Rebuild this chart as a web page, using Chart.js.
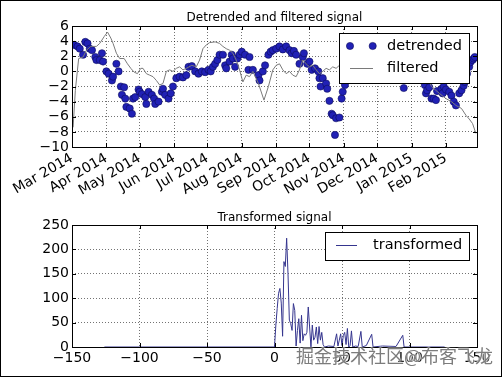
<!DOCTYPE html>
<html><head><meta charset="utf-8">
<script src="https://cdn.jsdelivr.net/npm/chart.js@4"></script>
<style>
html,body{margin:0;padding:0;background:#fff;}
#fig{position:relative;width:502px;height:377px;overflow:hidden;background:#fff;}
#c1{position:absolute;left:0;top:0;}
#c2{position:absolute;left:0;top:200px;}
#frame{position:absolute;left:0;top:0;width:502px;height:377px;box-sizing:border-box;border:1px solid #000;pointer-events:none;}
#wm{position:absolute;left:296px;top:343px;font-family:"Noto Sans CJK SC";font-size:18px;line-height:24px;color:#7c7c7c;white-space:nowrap;text-shadow:0 0 2px #fff,0 0 2px #fff;}
</style></head>
<body>
<div id="fig">
<canvas id="c1" width="502" height="200"></canvas>
<canvas id="c2" width="502" height="177"></canvas>
<div id="wm">掘金技术社区@布客飞龙</div>
<div id="frame"></div>
</div>
<script>
// ---- data (x in days since 2014-03-01) ----
const monthTickDays = [0,31,61,92,122,153,184,214,245,275,306,337];
const monthTickLabels = ['Mar 2014','Apr 2014','May 2014','Jun 2014','Jul 2014','Aug 2014','Sep 2014','Oct 2014','Nov 2014','Dec 2014','Jan 2015','Feb 2015'];
const topYTicks = [-10,-8,-6,-4,-2,0,2,4,6];

const detrendedDays = [2,5,7,10,12,14,16,18,21,22,25,27,28,31,33,36,37,40,42,44,45,47,48,49,52,54,55,57,60,61,63,66,67,69,72,74,75,78,81,82,84,87,89,91,94,97,100,103,105,108,111,114,117,120,123,125,127,129,131,133,136,138,139,142,144,145,147,149,151,153,156,159,160,163,168,169,172,174,177,179,181,184,187,190,193,196,198,200,202,205,208,209,212,214,216,219,222,223,224,226,229,230,232,234,235,237,238,241,243,244,246,250,255,259,264,268,273,277,282,286,291,295,299,303,306,310,313,316,318,319,320,322,324,326,328,329,333,334,335,337,340,342,344,346,349,351,353,354,356,358,359,361,362,363];
const detrendedValues = [3.5,3.3,3.0,2.2,3.9,3.7,3.0,2.8,1.9,1.5,1.5,2.4,1.3,0,-0.3,-1.2,-0.7,1.0,0,-2.0,-3.1,-2.1,-3.6,-4.7,-4.9,-5.6,-3.6,-3.4,-2.4,-2.7,-3.0,-3.4,-4.3,-2.7,-3.1,-3.6,-4.3,-4.0,-2.7,-2.3,-3.1,-3.6,-2.9,-2.0,-0.9,-0.7,-0.8,-0.5,0.6,0.7,0,-0.3,0,-0.1,0.2,0,0.6,1.0,1.5,2.2,2.2,0.8,0.4,1.3,2.2,1.7,0.6,1.7,2.2,2.6,2.2,0.2,1.9,0.2,-0.5,-1.2,0,0.8,2.2,2.6,2.8,3.0,3.3,2.9,3.3,2.8,2.4,2.7,2.2,1.0,1.9,2.4,1.0,1.3,0.2,0.4,0,-0.9,-2.0,-0.9,-1.6,-2.3,-3.9,-5.6,-5.8,-8.4,-6.2,-6.1,-3.6,-2.7,-1.8,-0.8,0.3,1.0,0.5,1.2,0.2,0.8,1.5,0.4,-0.5,0.6,-2.2,0.3,-0.4,0.9,-0.6,-1.0,-1.8,-2.9,-2.5,-2.1,-3.6,-3.6,-3.8,-2.6,-2.3,-2.9,-2.0,-2.4,-2.7,-3.2,-4.0,-4.5,-2.9,-2.5,-1.9,-1.4,-0.3,0.6,1.2,1.5,1.7,1.9];

const filteredDays = [1,3,6,10,13,17,22,25,29,32,35,37,40,43,47,50,53,56,59,62,64,67,70,73,76,79,82,85,88,91,94,97,100,103,108,112,115,118,121,124,129,133,136,139,142,145,148,151,154,157,160,163,168,173,177,181,184,187,190,193,196,199,202,205,208,211,214,217,220,223,226,229,232,235,238,241,250,259,268,277,286,295,304,313,320,324,331,337,342,346,351,355,358,361,364];
const filteredValues = [-7.4,-2.5,1.7,1.9,2.8,3.3,3.3,3.7,4.6,5.2,4.4,3.7,2.4,1.7,1.7,1.0,0.4,-0.1,-0.3,0.4,0.4,-0.3,-0.5,-0.7,-1.2,-1.8,-1.6,0,0.2,0,0.4,0.6,0.2,0.4,0.8,0.6,1.5,3.0,3.5,3.8,3.9,3.7,3.3,3.0,2.8,2.4,1.5,0.2,-1.4,-0.5,-0.7,0,-1.6,-3.8,-2.0,0.2,0.8,1.0,0.2,-0.3,0,-0.5,-0.7,0.2,1.5,1.0,0.6,0.8,0.2,-0.3,0,0.4,0.2,0.6,0.4,0.8,0.5,0.9,0.3,1.2,0.6,0.2,0.8,0.1,-0.8,-2.0,-2.9,-3.6,-4.0,-4.5,-4.9,-5.8,-6.3,-6.9,-8.2];

const transformedIndex = [-126,0,1,2,3,4,5,6,7,8,9,10,11,12,13,14,15,16,17,18,19,20,21,22,23,24,25,26,27,28,29,30,31,32,33,34,35,36,37,40,44,46,47,48,49,50,51,52,53,54,55,56,57,58,60,62,64,65,68,72,73,80,90,95,96,126];
const transformedValues = [0,0,45,79,110,120,90,22,175,165,223,150,55,48,34,89,75,2,34,58,8,65,13,27,24,30,82,41,0,45,14,20,41,7,42,14,30,5,0,2,1,27,2,14,27,3,24,30,5,38,0,3,33,0,2,1,32,0,3,26,0,2,1,24,0,0];

const bottomXTicks = [-150,-100,-50,0,50,100,150];
const bottomYTicks = [0,50,100,150,200,250];

// ---- styling helpers ----
const FONT = 'DejaVu Sans';
const fmt = v => (v < 0 ? '\u2212' + Math.abs(v) : String(v));
const gridCfg = {color:'rgba(0,0,0,0.55)', lineWidth:1, drawTicks:false};
const borderCfg = {display:false, dash:[1,2]};

function framePlugin(title, titleY, legend) {
  return {
    id:'frame',
    afterDatasetsDraw(chart) {
      const {ctx, chartArea:a, scales} = chart;
      ctx.save();
      ctx.strokeStyle = '#000'; ctx.lineWidth = 1; ctx.setLineDash([]);
      ctx.beginPath();
      scales.x.ticks.forEach(t => {
        const x = Math.round(scales.x.getPixelForValue(t.value)) + 0.5;
        ctx.moveTo(x, a.bottom); ctx.lineTo(x, a.bottom - 4);
        ctx.moveTo(x, a.top); ctx.lineTo(x, a.top + 4);
      });
      scales.y.ticks.forEach(t => {
        const y = Math.round(scales.y.getPixelForValue(t.value)) + 0.5;
        ctx.moveTo(a.left, y); ctx.lineTo(a.left + 4, y);
        ctx.moveTo(a.right, y); ctx.lineTo(a.right - 4, y);
      });
      ctx.stroke();
      ctx.strokeRect(Math.round(a.left)+0.5, Math.round(a.top)+0.5, Math.round(a.right-a.left), Math.round(a.bottom-a.top));
      // title
      ctx.fillStyle = '#000';
      ctx.font = '12px "' + FONT + '"';
      ctx.textAlign = 'center'; ctx.textBaseline = 'alphabetic';
      ctx.fillText(title, (a.left + a.right) / 2, titleY);
      legend(ctx);
      ctx.restore();
    }
  };
}

const dotFill = '#2121b5', dotEdge = '#0c0c5c';
const filteredColor = '#7a7a7a';
const transColor = '#35358e';

// ---- top chart ----
new Chart(document.getElementById('c1'), {
  type:'line',
  data:{datasets:[
    {label:'filtered', data: filteredDays.map((d,i)=>({x:d,y:filteredValues[i]})), borderColor:filteredColor, borderWidth:1, pointRadius:0, tension:0, order:0},
    {label:'detrended', data: detrendedDays.map((d,i)=>({x:d,y:detrendedValues[i]})), showLine:false, pointRadius:3.6, pointBackgroundColor:dotFill, pointBorderColor:dotEdge, pointBorderWidth:0.6, order:1}
  ]},
  options:{
    responsive:false, animation:false, events:[],
    layout:{padding:{left:0,right:25,top:26,bottom:0}},
    plugins:{legend:{display:false}, tooltip:{enabled:false}},
    scales:{
      x:{type:'linear', min:0, max:365,
        afterBuildTicks:s=>{ s.ticks = monthTickDays.map(v=>({value:v})); },
        afterFit:s=>{ s.height = 53; },
        ticks:{autoSkip:false, maxRotation:30, minRotation:30, padding:3, color:'#000', font:{family:FONT,size:14},
          callback:(v,i)=>monthTickLabels[i]},
        grid:gridCfg, border:borderCfg},
      y:{min:-10, max:6,
        afterBuildTicks:s=>{ s.ticks = topYTicks.map(v=>({value:v})); },
        afterFit:s=>{ s.width = 72; },
        ticks:{autoSkip:false, padding:3, color:'#000', font:{family:FONT,size:14}, callback:v=>fmt(v)},
        grid:gridCfg, border:borderCfg}
    }
  },
  plugins:[framePlugin('Detrended and filtered signal', 20.5, ctx=>{
    ctx.fillStyle='#fff'; ctx.fillRect(339.5,33.5,130,50);
    ctx.strokeStyle='#000'; ctx.lineWidth=1; ctx.strokeRect(339.5,33.5,130,50);
    [350,372.7].forEach(x=>{ ctx.beginPath(); ctx.arc(x,46,3.6,0,Math.PI*2); ctx.fillStyle=dotFill; ctx.fill(); ctx.lineWidth=0.6; ctx.strokeStyle=dotEdge; ctx.stroke(); });
    ctx.beginPath(); ctx.moveTo(350,68.5); ctx.lineTo(373,68.5); ctx.strokeStyle=filteredColor; ctx.lineWidth=1; ctx.stroke();
    ctx.fillStyle='#000'; ctx.font='14.5px "'+FONT+'"'; ctx.textAlign='left'; ctx.textBaseline='middle';
    ctx.fillText('detrended',387,46); ctx.fillText('filtered',387,68);
  })]
});

// ---- bottom chart ----
new Chart(document.getElementById('c2'), {
  type:'line',
  data:{datasets:[
    {label:'transformed', data: transformedIndex.map((d,i)=>({x:d,y:transformedValues[i]})), borderColor:transColor, borderWidth:1, pointRadius:0, tension:0}
  ]},
  options:{
    responsive:false, animation:false, events:[],
    layout:{padding:{left:0,right:25,top:25,bottom:0}},
    plugins:{legend:{display:false}, tooltip:{enabled:false}},
    scales:{
      x:{type:'linear', min:-150, max:150,
        afterBuildTicks:s=>{ s.ticks = bottomXTicks.map(v=>({value:v})); },
        afterFit:s=>{ s.height = 30; },
        ticks:{autoSkip:false, maxRotation:0, minRotation:0, padding:3, color:'#000', font:{family:FONT,size:14}, callback:v=>fmt(v)},
        grid:gridCfg, border:borderCfg},
      y:{min:0, max:250,
        afterBuildTicks:s=>{ s.ticks = bottomYTicks.map(v=>({value:v})); },
        afterFit:s=>{ s.width = 72; },
        ticks:{autoSkip:false, padding:3, color:'#000', font:{family:FONT,size:14}, callback:v=>fmt(v)},
        grid:gridCfg, border:borderCfg}
    }
  },
  plugins:[framePlugin('Transformed signal', 20.7, ctx=>{
    ctx.fillStyle='#fff'; ctx.fillRect(325.5,32.5,144,28);
    ctx.strokeStyle='#000'; ctx.lineWidth=1; ctx.strokeRect(325.5,32.5,144,28);
    ctx.beginPath(); ctx.moveTo(336,45.5); ctx.lineTo(357,45.5); ctx.strokeStyle=transColor; ctx.lineWidth=1; ctx.stroke();
    ctx.fillStyle='#000'; ctx.font='14.5px "'+FONT+'"'; ctx.textAlign='left'; ctx.textBaseline='middle';
    ctx.fillText('transformed',373,45);
  })]
});
</script>
</body></html>
